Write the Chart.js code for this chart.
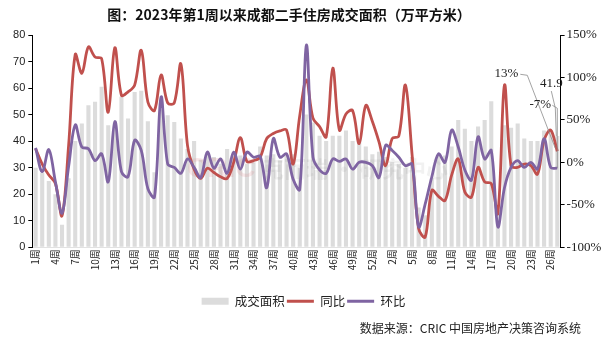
<!DOCTYPE html>
<html>
<head>
<meta charset="utf-8">
<script src="https://cdn.jsdelivr.net/npm/chart.js@4.4.1/dist/chart.umd.min.js"></script>
<style>
  html, body { margin: 0; padding: 0; background: #fff; }
  #wrap { width: 607px; height: 345px; }
</style>
</head>
<body>
<div id="wrap"><canvas id="c" width="607" height="345"></canvas></div>
<script>
// 周次：2023年第1-53周，2024年第1-27周
const weeks = [
  '1周','2周','3周','4周','5周','6周','7周','8周','9周','10周',
  '11周','12周','13周','14周','15周','16周','17周','18周','19周','20周',
  '21周','22周','23周','24周','25周','26周','27周','28周','29周','30周',
  '31周','32周','33周','34周','35周','36周','37周','38周','39周','40周',
  '41周','42周','43周','44周','45周','46周','47周','48周','49周','50周',
  '51周','52周','53周',
  '1周','2周','3周','4周','5周','6周','7周','8周','9周','10周',
  '11周','12周','13周','14周','15周','16周','17周','18周','19周','20周',
  '21周','22周','23周','24周','25周','26周','27周'
];

// 成交面积（万平方米）
const area = [
  30, 28, 25, 20, 8.5, 26, 40, 46.6, 53.5, 54.8,
  60.5, 46, 47, 56.7, 48.5, 58.5, 59, 47.5, 28.3, 52,
  49.7, 47.2, 41, 37, 40, 33, 35, 34, 31.5, 37,
  36, 34.6, 31.5, 32, 38, 34.6, 35, 32.7, 34.6, 35,
  30, 50, 47, 42, 40, 42, 42, 44, 40, 41,
  38, 35, 36, 34, 32, 31.5, 30, 34, 15, 12,
  26, 34.6, 34.6, 38, 48, 44.7, 40, 45.5, 48, 55,
  14, 46, 45, 46.6, 41, 40, 40, 44, 44, 41.9
];

// 同比（%）
const yoy = [
  16, -2, -15, -25, -63, 20, 127, 105, 136, 124,
  122, 59, 135, 79, 83, 91, 132, 71, 61, 103,
  70, 70, 116, 20, -8, -19, -7, -12, -17, -19,
  0, 29, 1, 2, 6, 28, 34, 37, 38, -2,
  55, 97, 52, 42, 30, 111, 38, 57, 61, 22,
  67, 48, 24, -4, 28, 31, 91, 10, -78, -88,
  -33, -40, -45, -15, 4, -35, -41, -6, -23, -25,
  -60, 91, -4, -6, -2, -4, -14, 26, 38, 13
];

// 环比（%）
const mom = [
  17, -11, 15, -23, -60, -5, 44, 18, 16, 2,
  10, -23, 48, -11, -17, 26, 14, -31, -41, 77,
  -2, -6, -13, 4, -6, -18, 12, -7, 4, -13,
  12, -8, 12, 6, 7, -30, 28, 6, 10, -20,
  -32, 138, 6, -9, -13, 4, 1, 4, -8, 0,
  0, -4, -18, 20, 14, 6, -4, -2, -76, -49,
  -17, 10, 0, 38, 18, -9, -21, 30, 4, 14,
  -76, -30, -6, 2, -6, 0, -8, 28, -6, -7
];

const areaTicks = { min: 0, max: 80, step: 10 };
const pctTicks = { min: -100, max: 150, step: 50 };

const COLOR_AREA = '#dcdcdc';
const COLOR_YOY = '#c0504d';
const COLOR_MOM = '#7f64a2';

const titleText = '图：2023年第1周以来成都二手住房成交面积（万平方米）';
const sourceText = '数据来源：CRIC 中国房地产决策咨询系统';

const CJK = '"Noto Sans CJK SC", "Noto Sans", sans-serif';

// 白色背景
const bgPlugin = {
  id: 'bg',
  beforeDraw(chart) {
    const ctx = chart.ctx;
    ctx.save();
    ctx.fillStyle = '#fff';
    ctx.fillRect(0, 0, chart.width, chart.height);
    ctx.restore();
  }
};

// 水印（画在柱子之上、折线之下）
const watermarkPlugin = {
  id: 'watermark',
  afterDatasetDraw(chart, args) {
    if (args.index !== 0) return;
    const ctx = chart.ctx;
    ctx.save();
    ctx.textBaseline = 'middle';
    ctx.textAlign = 'left';
    ctx.font = 'bold 28px "Liberation Sans", sans-serif';
    ctx.fillStyle = 'rgba(215, 110, 120, 0.16)';
    ctx.fillText('CRIC', 187, 169);
    ctx.font = 'bold 22px ' + CJK;
    ctx.fillStyle = 'rgba(120, 120, 120, 0.10)';
    ctx.fillText('克而瑞 · 研究中心', 262, 169);
    ctx.restore();
  }
};

// 标题、来源与末端数据标签
const textPlugin = {
  id: 'texts',
  afterDraw(chart) {
    const ctx = chart.ctx;
    ctx.save();
    ctx.fillStyle = '#111';
    ctx.textAlign = 'center';
    ctx.textBaseline = 'middle';
    ctx.font = 'bold 14px ' + CJK;
    ctx.fillText(titleText, 289, 15);

    ctx.textAlign = 'right';
    ctx.font = '12px ' + CJK;
    ctx.fillStyle = '#222';
    ctx.fillText(sourceText, 581, 328);

    // 最后一周的数据标签
    const n = area.length - 1;
    const pb = chart.getDatasetMeta(0).data[n];
    const pr = chart.getDatasetMeta(1).data[n];
    const pp = chart.getDatasetMeta(2).data[n];
    const px = pr.x;

    ctx.strokeStyle = '#8c8c8c';
    ctx.lineWidth = 0.8;
    ctx.beginPath();
    ctx.moveTo(px - 37, pr.y - 77);
    ctx.lineTo(px - 30, pr.y - 76);
    ctx.lineTo(px - 2, pr.y - 3);
    ctx.moveTo(px - 6, pb.y - 45);
    ctx.lineTo(px - 2, pb.y - 28);
    ctx.lineTo(px - 1, pb.y);
    ctx.moveTo(px - 5, pp.y - 63);
    ctx.lineTo(px, pp.y - 60);
    ctx.lineTo(px, pp.y);
    ctx.stroke();

    ctx.font = '13px "Liberation Serif", serif';
    ctx.fillStyle = '#222';
    ctx.textAlign = 'center';
    ctx.fillText(Math.round(yoy[n]) + '%', px - 51, pr.y - 78);
    ctx.fillText(String(area[n]), px - 6, pb.y - 52);
    ctx.fillText(Math.round(mom[n]) + '%', px - 17, pp.y - 64);
    ctx.restore();
  }
};

new Chart(document.getElementById('c'), {
  type: 'bar',
  data: {
    labels: weeks,
    datasets: [
      {
        label: '成交面积',
        data: area,
        backgroundColor: COLOR_AREA,
        borderWidth: 0,
        barPercentage: 0.62,
        categoryPercentage: 1.0,
        yAxisID: 'y',
        order: 3
      },
      {
        type: 'line',
        label: '同比',
        data: yoy,
        borderColor: COLOR_YOY,
        backgroundColor: COLOR_YOY,
        borderWidth: 2.8,
        pointRadius: 0,
        tension: 0.35,
        yAxisID: 'y1',
        order: 2
      },
      {
        type: 'line',
        label: '环比',
        data: mom,
        borderColor: COLOR_MOM,
        backgroundColor: COLOR_MOM,
        borderWidth: 2.8,
        pointRadius: 0,
        tension: 0.35,
        yAxisID: 'y1',
        order: 1
      }
    ]
  },
  options: {
    responsive: false,
    devicePixelRatio: 1,
    animation: false,
    layout: { padding: { top: 35, bottom: 27.5, left: 0, right: 0 } },
    plugins: {
      title: { display: false },
      tooltip: { enabled: false },
      legend: {
        display: true,
        position: 'bottom',
        labels: {
          usePointStyle: true,
          pointStyleWidth: 27,
          boxHeight: 7,
          padding: 2,
          color: '#222',
          font: { family: CJK, size: 12.5 },
          generateLabels(chart) {
            return chart.data.datasets.map((ds, i) => ({
              text: ds.label,
              datasetIndex: i,
              hidden: false,
              fillStyle: i === 0 ? COLOR_AREA : ds.borderColor,
              strokeStyle: i === 0 ? COLOR_AREA : ds.borderColor,
              lineWidth: i === 0 ? 0 : 3,
              pointStyle: i === 0 ? 'rect' : 'line',
              fontColor: '#222'
            }));
          }
        }
      }
    },
    scales: {
      x: {
        offset: true,
        grid: { display: false, drawTicks: false },
        border: { display: true, color: '#e2e2e2' },
        ticks: {
          autoSkip: false,
          minRotation: 90,
          maxRotation: 90,
          padding: 2,
          color: '#222',
          font: { family: CJK, size: 10 },
          callback: (v, i) => (i % 3 === 0 ? weeks[i] : '')
        },
        afterFit(s) { s.height = 45.8; }
      },
      y: {
        position: 'left',
        min: areaTicks.min,
        max: areaTicks.max,
        grid: { display: true, drawOnChartArea: false, drawTicks: true, tickLength: 4, color: '#000' },
        border: { display: true, color: '#000' },
        ticks: {
          stepSize: areaTicks.step,
          padding: 3,
          color: '#222',
          font: { family: '"Liberation Sans", sans-serif', size: 11 }
        },
        afterFit(s) { s.width = 32.3; }
      },
      y1: {
        position: 'right',
        min: pctTicks.min,
        max: pctTicks.max,
        grid: { display: true, drawOnChartArea: false, drawTicks: true, tickLength: 4, color: '#000' },
        border: { display: true, color: '#000' },
        ticks: {
          stepSize: pctTicks.step,
          padding: 2,
          color: '#222',
          font: { family: '"Liberation Serif", serif', size: 13 },
          callback: v => v + '%'
        },
        afterFit(s) { s.width = 46.4; }
      }
    }
  },
  plugins: [bgPlugin, watermarkPlugin, textPlugin]
});
</script>
</body>
</html>
